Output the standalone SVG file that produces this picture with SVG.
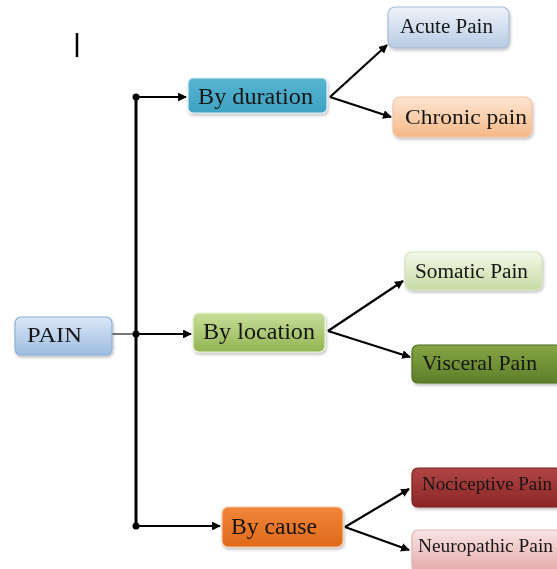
<svg xmlns="http://www.w3.org/2000/svg" width="557" height="569" viewBox="0 0 557 569">
<style>
text{font-family:"Liberation Serif","Times New Roman",serif;fill:#151515}
.c{stroke:#000;stroke-width:2.2;fill:none}
.box{stroke-width:1.2}
</style>
<defs>
<marker id="ah" viewBox="0 0 10 10" refX="9" refY="5" markerWidth="4" markerHeight="4" orient="auto" markerUnits="strokeWidth"><path d="M0,0L10,5L0,10z" fill="#000"/></marker>
<filter id="sh" x="-10%" y="-10%" width="125%" height="140%"><feDropShadow dx="1" dy="2" stdDeviation="1.5" flood-color="#000" flood-opacity="0.25"/></filter>
<linearGradient id="gBlue" x1="0" y1="0" x2="0" y2="1"><stop offset="0" stop-color="#eef3fa"/><stop offset="1" stop-color="#b7cbe4"/></linearGradient>
<linearGradient id="gPain" x1="0" y1="0" x2="0" y2="1"><stop offset="0" stop-color="#dbe7f5"/><stop offset="1" stop-color="#9dbde2"/></linearGradient>
<linearGradient id="gPeach" x1="0" y1="0" x2="0" y2="1"><stop offset="0" stop-color="#fde6d2"/><stop offset="1" stop-color="#f6b887"/></linearGradient>
<linearGradient id="gTeal" x1="0" y1="0" x2="0" y2="1"><stop offset="0" stop-color="#56b4d0"/><stop offset="1" stop-color="#3fa2c2"/></linearGradient>
<linearGradient id="gLoc" x1="0" y1="0" x2="0" y2="1"><stop offset="0" stop-color="#c8de9a"/><stop offset="1" stop-color="#92b451"/></linearGradient>
<linearGradient id="gSom" x1="0" y1="0" x2="0" y2="1"><stop offset="0" stop-color="#f4f8ea"/><stop offset="1" stop-color="#c7dba4"/></linearGradient>
<linearGradient id="gVis" x1="0" y1="0" x2="0" y2="1"><stop offset="0" stop-color="#86a545"/><stop offset="1" stop-color="#5d7f28"/></linearGradient>
<linearGradient id="gCause" x1="0" y1="0" x2="0" y2="1"><stop offset="0" stop-color="#f0853a"/><stop offset="1" stop-color="#e0691a"/></linearGradient>
<linearGradient id="gNoci" x1="0" y1="0" x2="0" y2="1"><stop offset="0" stop-color="#b04545"/><stop offset="1" stop-color="#8c2626"/></linearGradient>
<linearGradient id="gNeuro" x1="0" y1="0" x2="0" y2="1"><stop offset="0" stop-color="#f8e3e3"/><stop offset="1" stop-color="#e6aaaa"/></linearGradient>
</defs>
<rect width="557" height="569" fill="#fff"/>

<g id="connectors">
<line x1="77" y1="33" x2="77" y2="57" stroke="#000" stroke-width="2.5"/>
<line x1="136" y1="97" x2="136" y2="526" stroke="#000" stroke-width="3"/>
<line x1="112" y1="334" x2="136" y2="334" stroke="#555" stroke-width="1.6"/>
<circle cx="136" cy="97" r="3.5" fill="#000"/>
<circle cx="136" cy="334" r="3.5" fill="#000"/>
<circle cx="136" cy="526" r="3.5" fill="#000"/>
<line class="c" x1="136" y1="97" x2="186" y2="97" marker-end="url(#ah)"/>
<line class="c" x1="136" y1="334" x2="191" y2="334" marker-end="url(#ah)"/>
<line class="c" x1="136" y1="526" x2="220" y2="526" marker-end="url(#ah)"/>
<line class="c" x1="330" y1="97" x2="387" y2="45" marker-end="url(#ah)"/>
<line class="c" x1="330" y1="97" x2="391" y2="117" marker-end="url(#ah)"/>
<line class="c" x1="328" y1="331" x2="403" y2="281" marker-end="url(#ah)"/>
<line class="c" x1="328" y1="331" x2="410" y2="357" marker-end="url(#ah)"/>
<line class="c" x1="345" y1="527" x2="409" y2="489" marker-end="url(#ah)"/>
<line class="c" x1="345" y1="527" x2="409" y2="550" marker-end="url(#ah)"/>
</g>

<g id="pain" filter="url(#sh)">
<rect class="box" x="15" y="317" width="97" height="38" rx="6" fill="url(#gPain)" stroke="#8eb0d8"/>
<text x="27" y="342" font-size="21" textLength="55" lengthAdjust="spacingAndGlyphs" fill="#14223a">PAIN</text>
</g>

<g id="by-duration" filter="url(#sh)">
<rect class="box" x="188" y="78" width="139" height="35" rx="5" fill="url(#gTeal)" stroke="#dfeff5" stroke-width="2"/>
<text x="198" y="104" font-size="24" textLength="115" lengthAdjust="spacingAndGlyphs" fill="#12263a">By duration</text>
</g>

<g id="acute" filter="url(#sh)">
<rect class="box" x="388" y="7" width="121" height="41" rx="7" fill="url(#gBlue)" stroke="#a9bcd6"/>
<text x="400" y="33" font-size="20" textLength="93" lengthAdjust="spacingAndGlyphs">Acute Pain</text>
</g>

<g id="chronic" filter="url(#sh)">
<rect class="box" x="393" y="97" width="139" height="40" rx="7" fill="url(#gPeach)" stroke="#f2c4a0"/>
<text x="405" y="124" font-size="21" textLength="122" lengthAdjust="spacingAndGlyphs">Chronic pain</text>
</g>

<g id="by-location" filter="url(#sh)">
<rect class="box" x="193" y="313" width="132" height="39" rx="6" fill="url(#gLoc)" stroke="#e9f2d8" stroke-width="1.5"/>
<text x="203" y="339" font-size="24" textLength="112" lengthAdjust="spacingAndGlyphs" fill="#1a260c">By location</text>
</g>

<g id="somatic" filter="url(#sh)">
<rect class="box" x="405" y="252" width="137" height="38" rx="7" fill="url(#gSom)" stroke="#d4e2bb"/>
<text x="415" y="278" font-size="20" textLength="113" lengthAdjust="spacingAndGlyphs">Somatic Pain</text>
</g>

<g id="visceral" filter="url(#sh)">
<rect class="box" x="412" y="345" width="150" height="38" rx="6" fill="url(#gVis)" stroke="#4f6d20"/>
<text x="422" y="370" font-size="21" textLength="115" lengthAdjust="spacingAndGlyphs" fill="#101806">Visceral Pain</text>
</g>

<g id="by-cause" filter="url(#sh)">
<rect class="box" x="222" y="507" width="121" height="40" rx="6" fill="url(#gCause)" stroke="#f6c9a3" stroke-width="1.5"/>
<text x="231" y="534" font-size="24" textLength="86" lengthAdjust="spacingAndGlyphs" fill="#2a1004">By cause</text>
</g>

<g id="nociceptive" filter="url(#sh)">
<rect class="box" x="412" y="468" width="150" height="39" rx="6" fill="url(#gNoci)" stroke="#7c2020"/>
<text x="422" y="490" font-size="18" textLength="130" lengthAdjust="spacingAndGlyphs" fill="#2a0808">Nociceptive Pain</text>
</g>

<g id="neuropathic" filter="url(#sh)">
<rect class="box" x="412" y="530" width="150" height="42" rx="6" fill="url(#gNeuro)" stroke="#e2b5b5"/>
<text x="418" y="552" font-size="18" textLength="135" lengthAdjust="spacingAndGlyphs">Neuropathic Pain</text>
</g>
</svg>
